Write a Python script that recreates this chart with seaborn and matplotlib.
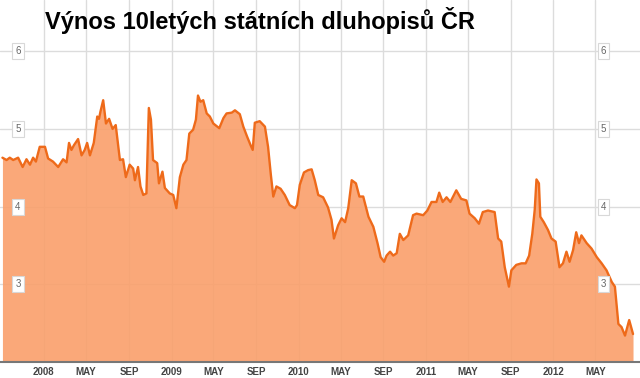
import pandas as pd
import matplotlib
matplotlib.use('Agg')
import matplotlib.pyplot as plt
import matplotlib.transforms as mtransforms
import seaborn as sns

# Data (approximate)
dates = [
    '2007-09-04', '2007-09-16', '2007-09-25', '2007-10-05', '2007-10-19', '2007-11-01',
    '2007-11-12', '2007-11-22', '2007-12-01', '2007-12-09', '2007-12-20', '2008-01-04',
    '2008-01-13', '2008-01-27', '2008-02-11', '2008-02-25', '2008-03-06', '2008-03-13',
    '2008-03-20', '2008-03-27', '2008-04-08', '2008-04-18', '2008-04-27', '2008-05-04',
    '2008-05-12', '2008-05-23', '2008-06-02', '2008-06-07', '2008-06-11', '2008-06-19',
    '2008-06-27', '2008-07-06', '2008-07-16', '2008-07-25', '2008-08-06', '2008-08-15',
    '2008-08-23', '2008-09-03', '2008-09-13', '2008-09-18', '2008-09-27', '2008-10-04',
    '2008-10-12', '2008-10-21', '2008-10-28', '2008-11-03', '2008-11-09', '2008-11-21',
    '2008-11-26', '2008-12-06', '2008-12-13', '2008-12-27', '2009-01-06', '2009-01-15',
    '2009-01-25', '2009-02-04', '2009-02-13', '2009-02-21', '2009-03-04', '2009-03-12',
    '2009-03-18', '2009-03-25', '2009-04-02', '2009-04-12', '2009-04-21', '2009-05-01',
    '2009-05-18', '2009-05-30', '2009-06-08', '2009-06-23', '2009-07-02', '2009-07-16',
    '2009-07-26', '2009-08-06', '2009-08-16', '2009-08-22', '2009-08-28', '2009-09-11',
    '2009-09-26', '2009-10-05', '2009-10-13', '2009-10-20', '2009-10-29', '2009-11-10',
    '2009-11-22', '2009-12-06', '2009-12-21', '2009-12-27', '2010-01-04', '2010-01-16',
    '2010-01-28', '2010-02-07', '2010-02-16', '2010-02-26', '2010-03-12', '2010-03-26',
    '2010-04-05', '2010-04-12', '2010-04-24', '2010-05-04', '2010-05-14', '2010-05-23',
    '2010-06-02', '2010-06-14', '2010-06-24', '2010-07-05', '2010-07-20', '2010-08-03',
    '2010-08-15', '2010-08-24', '2010-09-03', '2010-09-10', '2010-09-20', '2010-09-29',
    '2010-10-09', '2010-10-18', '2010-10-28', '2010-11-11', '2010-11-25', '2010-12-05',
    '2010-12-24', '2011-01-05', '2011-01-17', '2011-01-31', '2011-02-08', '2011-02-18',
    '2011-03-01', '2011-03-12', '2011-03-29', '2011-04-12', '2011-04-27', '2011-05-06',
    '2011-05-21', '2011-06-02', '2011-06-13', '2011-06-28', '2011-07-17', '2011-07-27',
    '2011-08-05', '2011-08-15', '2011-08-27', '2011-09-03', '2011-09-17', '2011-10-02',
    '2011-10-14', '2011-10-24', '2011-11-02', '2011-11-09', '2011-11-14', '2011-11-21',
    '2011-11-25', '2011-12-05', '2011-12-17', '2011-12-27', '2012-01-08', '2012-01-19',
    '2012-01-29', '2012-02-08', '2012-02-17', '2012-02-27', '2012-03-07', '2012-03-15',
    '2012-03-22', '2012-04-06', '2012-04-20', '2012-05-05', '2012-05-19', '2012-06-02',
    '2012-06-17', '2012-06-26', '2012-07-06', '2012-07-15', '2012-07-25', '2012-08-06',
    '2012-08-17',
]
yields = [
    4.63, 4.60, 4.63, 4.60, 4.63, 4.51,
    4.61, 4.54, 4.63, 4.58, 4.77, 4.77,
    4.62, 4.58, 4.51, 4.61, 4.57, 4.82,
    4.73, 4.79, 4.87, 4.66, 4.73, 4.82,
    4.66, 4.82, 5.16, 5.13, 5.22, 5.37,
    5.07, 5.13, 5.00, 5.05, 4.60, 4.61,
    4.38, 4.54, 4.49, 4.34, 4.51, 4.26,
    4.15, 4.17, 5.27, 5.12, 4.60, 4.56,
    4.30, 4.45, 4.24, 4.17, 4.15, 3.98,
    4.38, 4.54, 4.60, 4.94, 4.99, 5.12,
    5.43, 5.35, 5.37, 5.20, 5.16, 5.07,
    5.01, 5.14, 5.20, 5.21, 5.24, 5.19,
    5.03, 4.90, 4.79, 4.73, 5.08, 5.10,
    5.03, 4.77, 4.41, 4.13, 4.26, 4.23,
    4.15, 4.02, 3.98, 4.02, 4.28, 4.44,
    4.47, 4.48, 4.34, 4.15, 4.12, 3.99,
    3.83, 3.59, 3.76, 3.85, 3.80, 3.98,
    4.34, 4.30, 4.13, 4.13, 3.87, 3.74,
    3.53, 3.35, 3.29, 3.37, 3.42, 3.37,
    3.40, 3.65, 3.57, 3.63, 3.89, 3.91,
    3.89, 3.95, 4.06, 4.06, 4.18, 4.06,
    4.12, 4.06, 4.21, 4.10, 4.08, 3.91,
    3.85, 3.78, 3.93, 3.95, 3.93, 3.59,
    3.55, 3.22, 2.97, 3.18, 3.25, 3.27,
    3.27, 3.37, 3.65, 3.96, 4.35, 4.30,
    3.87, 3.80, 3.70, 3.59, 3.55, 3.22,
    3.27, 3.42, 3.29, 3.44, 3.67, 3.53,
    3.63, 3.53, 3.46, 3.35, 3.27, 3.18,
    3.03, 2.97, 2.49, 2.45, 2.34, 2.54,
    2.36,
]

tick_dates = ['2008-01-01', '2008-05-01', '2008-09-01', '2009-01-01', '2009-05-01',
              '2009-09-01', '2010-01-01', '2010-05-01', '2010-09-01', '2011-01-01',
              '2011-05-01', '2011-09-01', '2012-01-01', '2012-05-01']
tick_labels = ['2008', 'MAY', 'SEP', '2009', 'MAY', 'SEP', '2010', 'MAY', 'SEP',
               '2011', 'MAY', 'SEP', '2012', 'MAY']
y_ticks = [3, 4, 5, 6]

title = 'Výnos 10letých státních dluhopisů ČR'

df = pd.DataFrame({'date': pd.to_datetime(dates), 'yield': yields})

sns.set_style('white')
plt.rcParams['font.family'] = ['Liberation Sans', 'DejaVu Sans']

fig = plt.figure(figsize=(6.4, 3.78), dpi=100)
ax = fig.add_axes([0, 16 / 378, 1, 362 / 378])

ax.set_xlim(pd.Timestamp('2007-08-28'), pd.Timestamp('2012-09-06'))
ax.set_ylim(2.0, 6.66)

# grid
ax.set_xticks(pd.to_datetime(tick_dates))
ax.set_xticklabels(tick_labels)
ax.set_yticks(y_ticks)
ax.set_yticklabels([])
ax.grid(True, color='#dcdcdc', linewidth=1)
ax.set_axisbelow(True)

ax.fill_between(df['date'], df['yield'], 2.0, color='#fa9f6b', alpha=0.9, linewidth=0, zorder=2)
sns.lineplot(data=df, x='date', y='yield', ax=ax, color='#ee6a1a', linewidth=1.7, zorder=3)

for side in ['top', 'left', 'right']:
    ax.spines[side].set_visible(False)
ax.spines['bottom'].set_color('#777777')
ax.spines['bottom'].set_linewidth(1.5)
ax.spines['bottom'].set_zorder(4)

ax.tick_params(axis='x', length=0, pad=3.5, labelsize=7, labelcolor='#444444')
for lbl in ax.get_xticklabels():
    lbl.set_fontweight('bold')
ax.tick_params(axis='y', length=0)
ax.set_xlabel('')
ax.set_ylabel('')

# y labels in small boxes inside the plot, both sides
trans = mtransforms.blended_transform_factory(ax.transAxes, ax.transData)
for v in y_ticks:
    for xpos in [0.028, 0.943]:
        ax.text(xpos, v, str(v), transform=trans, ha='center', va='center',
                fontsize=7, color='#666666', zorder=5,
                bbox=dict(boxstyle='square,pad=0.3', facecolor='white',
                          edgecolor='#d8d8d8', linewidth=0.8))

fig.text(45 / 640, 1 - 29 / 378, title, fontsize=17, fontweight='bold',
         color='black', ha='left', va='baseline')

fig.savefig('out.png', dpi=100)
